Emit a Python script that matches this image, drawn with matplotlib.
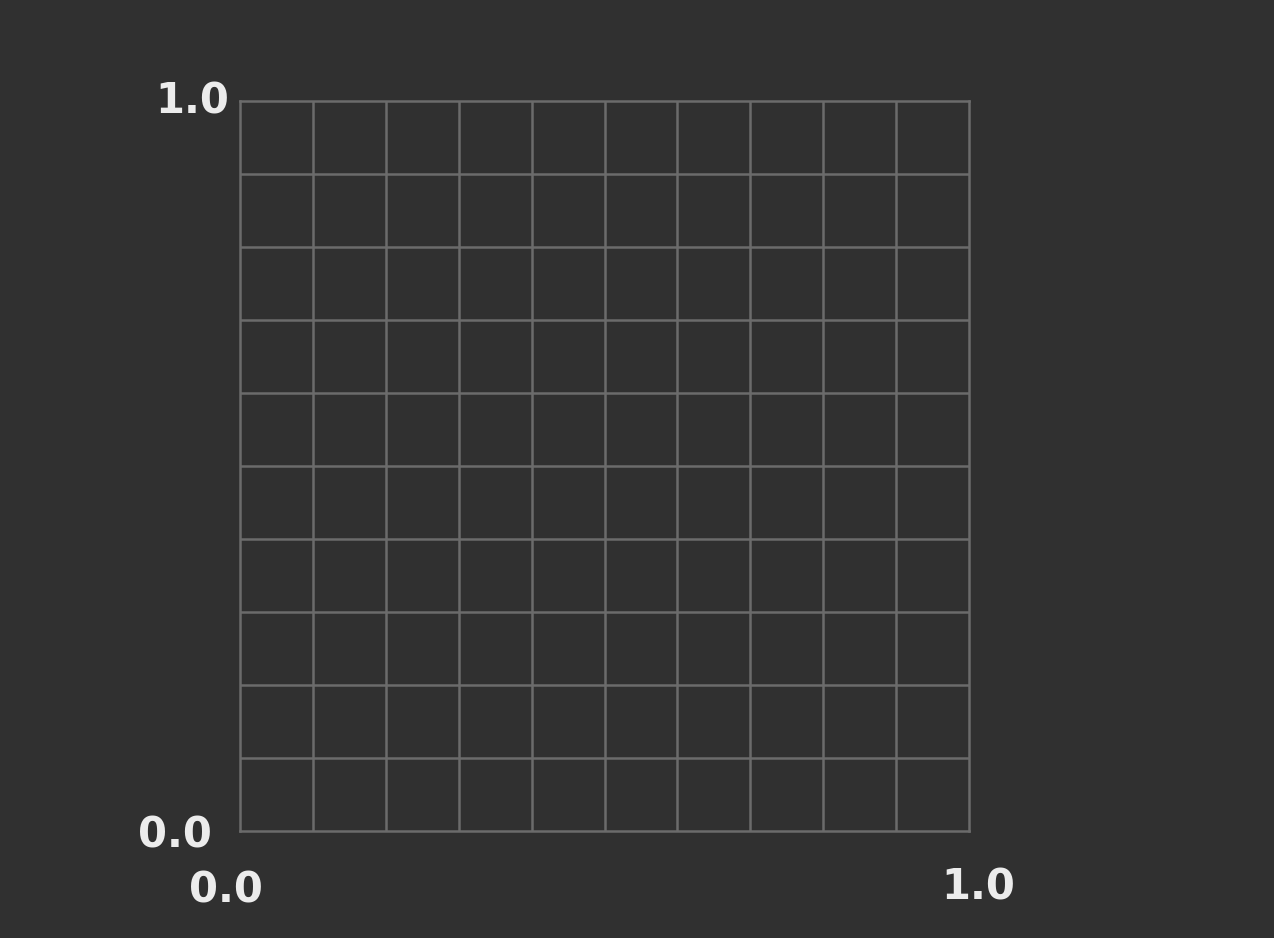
import numpy as np
import matplotlib
matplotlib.use("Agg")
import matplotlib.pyplot as plt
from matplotlib.transforms import ScaledTranslation

BG = "#303030"
GRID = "#6b6b6b"
TEXT = "#ececec"

# axis ticks and grid
x_ticks = [0.0, 1.0]
y_ticks = [0.0, 1.0]
x_labels = ["0.0", "1.0"]
y_labels = ["0.0", "1.0"]
grid_step = 0.1
n_cells = 10

fig = plt.figure(figsize=(12.74, 9.38), dpi=100, facecolor=BG)
ax = fig.add_axes([0.1884, 0.1141, 0.5722, 0.7782], facecolor=BG)

ax.set_xlim(0, 1)
ax.set_ylim(0, 1)

grid_pos = np.arange(n_cells + 1) * grid_step
ax.set_xticks(grid_pos, minor=True)
ax.set_yticks(grid_pos, minor=True)
ax.grid(which="minor", color=GRID, linewidth=1.8)
ax.tick_params(which="minor", length=0)

ax.set_xticks(x_ticks)
ax.set_xticklabels(x_labels)
ax.set_yticks(y_ticks)
ax.set_yticklabels(y_labels)
ax.tick_params(which="major", length=0, colors=TEXT, labelsize=30)
for lab in ax.get_xticklabels() + ax.get_yticklabels():
    lab.set_fontweight("bold")

# slightly uneven label placement, as in the hand-drawn original
yt = ax.yaxis.get_major_ticks()
yt[0].set_pad(20)
yt[1].set_pad(8)
xt = ax.xaxis.get_major_ticks()
for t in xt:
    t.set_pad(28)
shifts = [(-14, 0), (9, 3)]  # pixels
for t, (dx, dy) in zip(xt, shifts):
    lab = t.label1
    lab.set_transform(lab.get_transform() +
                      ScaledTranslation(dx / 100, dy / 100, fig.dpi_scale_trans))
yshift = [(0, 0), (0, 4)]
for t, (dx, dy) in zip(yt, yshift):
    lab = t.label1
    lab.set_transform(lab.get_transform() +
                      ScaledTranslation(dx / 100, dy / 100, fig.dpi_scale_trans))

for s in ax.spines.values():
    s.set_color(GRID)
    s.set_linewidth(1.8)

fig.savefig("out.png", dpi=100, facecolor=BG)
